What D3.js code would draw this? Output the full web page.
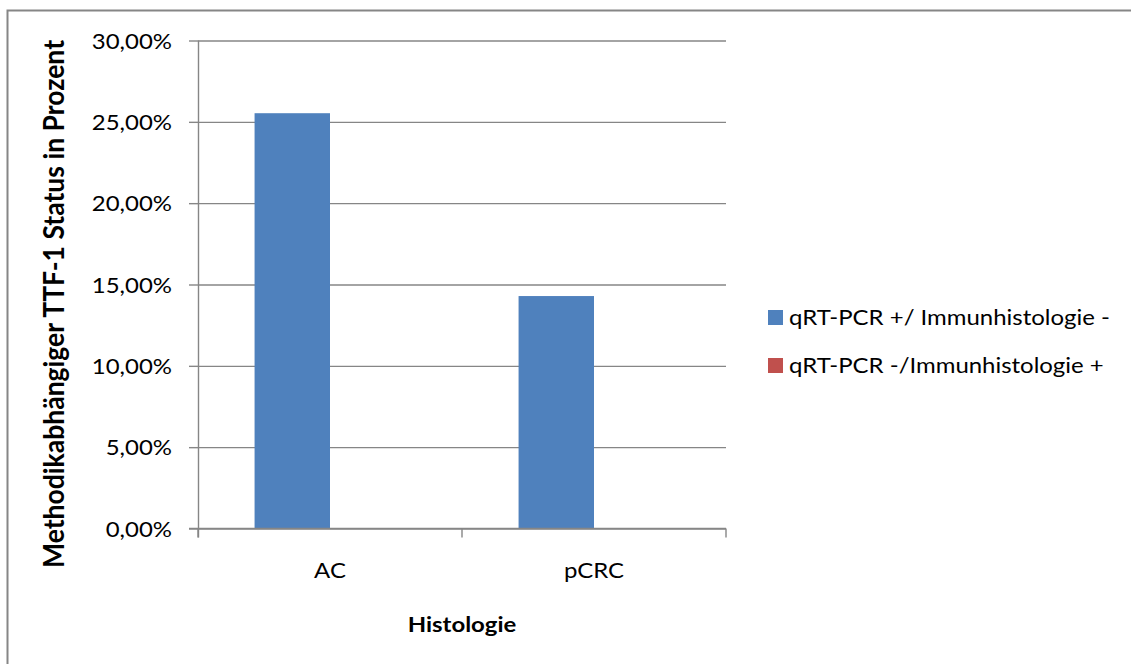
<!DOCTYPE html>
<html>
<head>
<meta charset="utf-8">
<script src="https://cdn.jsdelivr.net/npm/d3@7"></script>
<style>
  html, body { margin: 0; padding: 0; background: #ffffff; }
  svg { display: block; }
  text { font-family: Lato, "Open Sans", sans-serif; fill: #000; }
</style>
</head>
<body>
<svg id="chart" width="1131" height="664"></svg>
<script>
// Categories (histology) and the two method-discordance series
const categories = ["AC", "pCRC"];
const seriesNames = ["qRT-PCR +/ Immunhistologie -", "qRT-PCR -/Immunhistologie +"];
const pcrPosIhcNeg = [0.2553, 0.1429];
const pcrNegIhcPos = [0, 0];
const yTickValues = [0, 0.05, 0.10, 0.15, 0.20, 0.25, 0.30];
const seriesColors = ["#4F81BD", "#C0504D"];
const xTitle = "Histologie";
const yTitle = "Methodikabhängiger TTF-1 Status in Prozent";

const seriesValues = [pcrPosIhcNeg, pcrNegIhcPos];
const rows = categories.map((c, i) => ({
  category: c,
  values: seriesNames.map((s, k) => ({ series: s, value: seriesValues[k][i], color: seriesColors[k] }))
}));

const svg = d3.select("#chart");
const W = 1131, H = 664;
const plot = { left: 198, right: 726, top: 40.5, bottom: 528.5 };
const gridColor = "#868686";
const fontSize = 21;

// German number format: comma as decimal separator
const de = d3.formatLocale({ decimal: ",", thousands: ".", grouping: [3], currency: ["", " €"] });
const pct = de.format(".2%");

// Chart-area border (left and top edges)
svg.append("path")
  .attr("d", `M7.5,${H} V10.5 H${W}`)
  .attr("fill", "none").attr("stroke", gridColor).attr("stroke-width", 2);

// Horizontal stretch factor for text, derived from the legend label width
const probe = svg.append("text").attr("font-size", fontSize).text(seriesNames[0]);
const sx = 321 / probe.node().getComputedTextLength();
probe.remove();

function place(sel, x, y) {
  sel.attr("x", 0).attr("y", 0).attr("dy", null)
     .attr("transform", `translate(${x},${y}) scale(${sx},1)`);
}

// Scales
const x0 = d3.scaleBand().domain(categories).range([plot.left, plot.right]).padding(0);
const x1 = d3.scaleBand().domain(seriesNames).range([0, x0.bandwidth()])
  .paddingInner(0).paddingOuter(0.75);
const y = d3.scaleLinear().domain([0, 0.30]).range([plot.bottom, plot.top]);

// Gridlines
svg.append("g")
  .attr("transform", `translate(${plot.left},0)`)
  .call(d3.axisLeft(y).tickValues(yTickValues).tickSize(-(plot.right - plot.left)).tickFormat(""))
  .call(g => g.select(".domain").remove())
  .call(g => g.selectAll("line").attr("stroke", gridColor).attr("stroke-width", 1.4));

// Bars
const groups = svg.append("g").selectAll("g").data(rows).join("g")
  .attr("transform", d => `translate(${x0(d.category)},0)`);
groups.selectAll("rect").data(d => d.values).join("rect")
  .attr("x", d => x1(d.series))
  .attr("width", x1.bandwidth())
  .attr("y", d => y(d.value))
  .attr("height", d => y(0) - y(d.value))
  .attr("fill", d => d.color);

// Y axis
const yAxis = svg.append("g")
  .attr("transform", `translate(${plot.left},0)`)
  .call(d3.axisLeft(y).tickValues(yTickValues).tickSize(9).tickSizeOuter(0).tickFormat(pct));
yAxis.select(".domain").attr("stroke", gridColor).attr("stroke-width", 1.4)
  .attr("d", `M0.5,${plot.top}V${plot.bottom + 9}`);
yAxis.selectAll(".tick line").attr("stroke", gridColor).attr("stroke-width", 1.4);
yAxis.selectAll(".tick text")
  .attr("font-size", fontSize).attr("font-family", null).attr("text-anchor", "end")
  .each(function () { place(d3.select(this), -26, 7.5); });

// X axis: line, boundary ticks between categories, centred labels
const boundaries = [plot.left].concat(categories.map(c => x0(c) + x0.bandwidth()));
const xAxis = svg.append("g").attr("transform", `translate(0,${plot.bottom})`);
xAxis.append("line")
  .attr("x1", plot.left - 9).attr("x2", plot.right)
  .attr("stroke", gridColor).attr("stroke-width", 1.4);
xAxis.selectAll(".bt").data(boundaries).join("line")
  .attr("class", "bt")
  .attr("x1", d => d).attr("x2", d => d).attr("y1", 0).attr("y2", 9)
  .attr("stroke", gridColor).attr("stroke-width", 1.4);
xAxis.call(d3.axisBottom(x0).tickSize(0).tickPadding(0))
  .call(g => g.select(".domain").remove());
xAxis.selectAll(".tick text")
  .attr("font-size", fontSize).attr("font-family", null).attr("text-anchor", "middle")
  .each(function () { place(d3.select(this), 0, 49.5); });

// Axis titles
svg.append("text")
  .attr("font-size", fontSize).attr("font-weight", "bold").attr("text-anchor", "middle")
  .text(xTitle)
  .call(s => place(s, (plot.left + plot.right) / 2, 632));

svg.append("text")
  .attr("font-size", 25).attr("font-weight", "bold").attr("text-anchor", "middle")
  .attr("textLength", 528).attr("lengthAdjust", "spacingAndGlyphs")
  .attr("transform", `translate(64,304) scale(${sx},1) rotate(-90)`)
  .text(yTitle);

// Legend
const legend = svg.append("g").selectAll("g")
  .data(seriesNames.map((s, k) => ({ name: s, color: seriesColors[k] })))
  .join("g")
  .attr("transform", (d, i) => `translate(768,${310 + i * 48})`);
legend.append("rect").attr("width", 15).attr("height", 15).attr("fill", d => d.color);
legend.append("text").attr("font-size", fontSize).text(d => d.name)
  .each(function () { place(d3.select(this), 21, 15); });
</script>
</body>
</html>
